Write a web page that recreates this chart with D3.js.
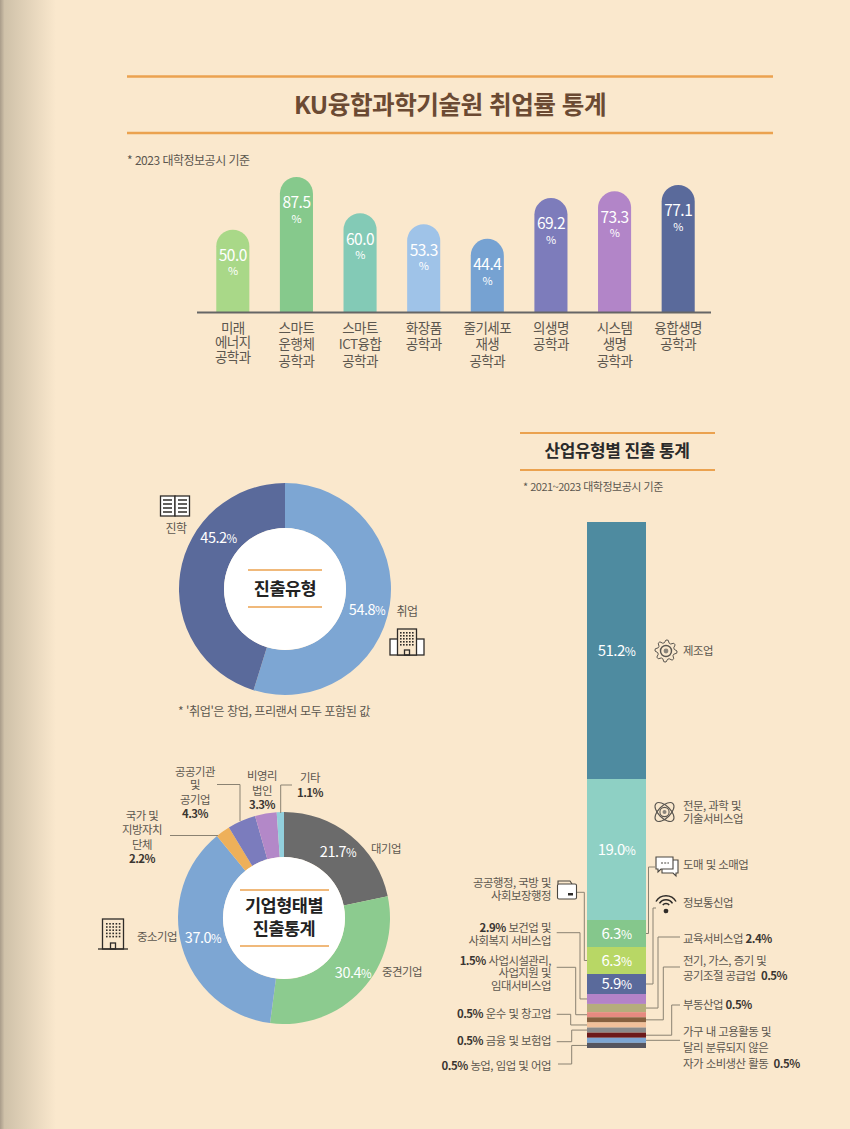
<!DOCTYPE html>
<html lang="ko">
<head>
<meta charset="utf-8">
<script src="https://cdn.jsdelivr.net/npm/d3@7"></script>
<style>
    html, body { margin: 0; padding: 0; background: #fae8cd; }
    svg { display: block; }
    text { font-family: "Noto Sans CJK KR", "Noto Sans", sans-serif; letter-spacing: -0.5px; }
</style>
</head>
<body>
<div id="vis"></div>
<script>
// department employment rates
const deptNames = [
    ['미래', '에너지', '공학과'],
    ['스마트', '운행체', '공학과'],
    ['스마트', 'ICT융합', '공학과'],
    ['화장품', '공학과'],
    ['줄기세포', '재생', '공학과'],
    ['의생명', '공학과'],
    ['시스템', '생명', '공학과'],
    ['융합생명', '공학과']
];
const deptRates = [50.0, 87.5, 60.0, 53.3, 44.4, 69.2, 73.3, 77.1];
const deptColors = ['#a9d888', '#86c98c', '#83cab6', '#9fc3e8', '#76a2d2', '#7d7cbb', '#b285c8', '#5a6a9b'];

// career type donut
const careerNames = ['취업', '진학'];
const careerValues = [54.8, 45.2];
const careerColors = ['#7da6d3', '#5a6a9b'];

// company type donut
const companyNames = ['대기업', '중견기업', '중소기업', '국가 및 지방자치 단체', '공공기관 및 공기업', '비영리 법인', '기타'];
const companyValues = [21.7, 30.4, 37.0, 2.2, 4.3, 3.3, 1.1];
const companyColors = ['#6b6b6b', '#8ccb8f', '#7da6d3', '#eeb05a', '#7b7cbd', '#b388c8', '#92cfdc'];

// industry stacked bar
const industryNames = ['제조업', '전문, 과학 및 기술서비스업', '도매 및 소매업', '공공행정, 국방 및 사회보장행정', '정보통신업',
    '보건업 및 사회복지 서비스업', '교육서비스업', '사업시설관리, 사업지원 및 임대서비스업', '전기, 가스, 증기 및 공기조절 공급업',
    '운수 및 창고업', '금융 및 보험업', '부동산업', '가구 내 고용활동', '농업, 임업 및 어업'];
const industryValues = [51.2, 19.0, 6.3, 6.3, 5.9, 2.9, 2.4, 1.5, 0.5, 0.5, 0.5, 0.5, 0.5, 0.5];
const industryColors = ['#4e8ba0', '#8ed0c4', '#85c78c', '#b8d765', '#5a6a9b', '#b383c8', '#b5ad7c',
    '#e68a80', '#86603f', '#f1c09a', '#8a8a8a', '#6d1a1a', '#7da6d3', '#55555f'];

const ORANGE = '#eba24f';
const LINE = '#8a8272';
const TEXT = '#5c574f';
const DARK = '#3a3632';

const svg = d3.select('#vis')
    .append('svg')
    .attr('width', 850)
    .attr('height', 1129);

// page background with the book gutter shadow on the left
const gutter = svg.append('defs').append('linearGradient').attr('id', 'gutter');
gutter.append('stop').attr('offset', '0').attr('stop-color', '#a99c8a');
gutter.append('stop').attr('offset', '0.08').attr('stop-color', '#cfc1a9');
gutter.append('stop').attr('offset', '1').attr('stop-color', '#fae8cd');
svg.append('rect').attr('width', 850).attr('height', 1129).attr('fill', '#fae8cd');
svg.append('rect').attr('width', 56).attr('height', 1129).attr('fill', 'url(#gutter)');

function rule(x1, x2, y, w) {
    svg.append('line')
        .attr('x1', x1).attr('x2', x2).attr('y1', y).attr('y2', y)
        .attr('stroke', ORANGE).attr('stroke-width', w);
}

// one text element, one tspan per line. A line is a string or a list of parts,
// parts ending in % come out bold and dark
function label(x, ys, lines, opts = {}) {
    const t = svg.append('text')
        .attr('text-anchor', opts.anchor || 'start')
        .attr('font-size', opts.size || 11.4)
        .attr('font-weight', opts.weight || 400)
        .attr('fill', opts.fill || TEXT);
    [].concat(ys).forEach((y, i) => {
        const parts = [].concat(Array.isArray(lines) ? lines[i] : lines);
        parts.forEach((p, k) => {
            const s = t.append('tspan').text(p);
            if (k === 0) s.attr('x', x).attr('y', y).attr('dy', '0.35em');
            if (/%$/.test(p)) s.attr('font-weight', 700).attr('fill', DARK);
        });
    });
    return t;
}

// white number with the smaller percent sign
function pct(x, y, value, size) {
    const t = svg.append('text')
        .attr('x', x).attr('y', y)
        .attr('dy', '0.35em')
        .attr('text-anchor', 'middle')
        .attr('fill', '#fff')
        .attr('font-size', size);
    t.append('tspan').text(value.toFixed(1));
    t.append('tspan').attr('font-size', size - 3).text('%');
}

// ---- title
rule(127, 773, 76.5, 2.5);
rule(127, 773, 133, 2.5);
label(450, 105, 'KU융합과학기술원 취업률 통계', { anchor: 'middle', size: 24.6, weight: 700, fill: '#6b4a33' });
label(127, 161, '* 2023 대학정보공시 기준', { size: 12 });

// ---- department bars
const barX = d3.scaleBand()
    .domain(d3.range(deptRates.length))
    .range([201, 710])
    .paddingInner(0.48)
    .paddingOuter(0.24);

// the original draws the tallest bar shorter than its share, hence the extra stop
const barY = d3.scaleLinear()
    .domain([0, 77.1, 87.5])
    .range([312, 185, 177]);

const bars = svg.append('g');
deptRates.forEach((v, i) => {
    const x = barX(i), w = barX.bandwidth(), top = barY(v), r = w / 2;
    bars.append('path')
        .attr('d', `M${x},312V${top + r}A${r},${r} 0 0 1 ${x + w},${top + r}V312Z`)
        .attr('fill', deptColors[i]);
    const cx = x + r;
    const t = label(cx, top + 26, v.toFixed(1), { anchor: 'middle', size: 15.5, fill: '#fff' });
    t.append('tspan').attr('x', cx).attr('y', top + 42).attr('dy', '0.35em').attr('font-size', 11).text('%');
    const step = deptNames[i][0] === '미래' ? 14.5 : 16.5;
    label(cx, deptNames[i].map((d, j) => 328 + j * step), deptNames[i], { anchor: 'middle', size: 13.5 });
});

const barAxis = svg.append('g')
    .attr('transform', 'translate(0,312.5)')
    .call(d3.axisBottom(barX).tickSize(0).tickFormat(''));
barAxis.select('.domain').attr('d', 'M197,0H711').attr('stroke', '#666').attr('stroke-width', 2);

// ---- donuts
function donut(cx, cy, values, colors) {
    const pie = d3.pie().sort(null)(values);
    const arc = d3.arc().innerRadius(61).outerRadius(106);
    const g = svg.append('g').attr('transform', `translate(${cx},${cy})`);
    g.selectAll('path')
        .data(pie)
        .join('path')
        .attr('d', arc)
        .attr('fill', (d, i) => colors[i]);
    g.append('circle').attr('r', 61).attr('fill', '#fff');
}

donut(285, 589, careerValues, careerColors);
rule(248, 322, 570, 1.5);
rule(248, 322, 607, 1.5);
label(285, 589, '진출유형', { anchor: 'middle', size: 17.5, weight: 700, fill: '#222' });
pct(367, 610, careerValues[0], 14.5);
pct(218.5, 538, careerValues[1], 14.5);
label(407, 612, careerNames[0], { anchor: 'middle', size: 12 });
label(176, 529, careerNames[1], { anchor: 'middle', size: 12 });
label(178, 712, "* '취업'은 창업, 프리랜서 모두 포함된 값", { size: 12.2 });

donut(284, 918, companyValues, companyColors);
rule(240, 329, 890, 1.5);
rule(240, 329, 946, 1.5);
label(284, [906, 929], ['기업형태별', '진출통계'], { anchor: 'middle', size: 17.5, weight: 700, fill: '#222' });
pct(338, 852, companyValues[0], 14.5);
pct(353, 973, companyValues[1], 14.5);
pct(203, 938, companyValues[2], 14.5);
label(386, 849, companyNames[0], { anchor: 'middle' });
label(402, 972, companyNames[1], { anchor: 'middle' });
label(157, 937, companyNames[2], { anchor: 'middle' });

const share = v => v.toFixed(1) + '%';
label(142, [816, 830, 845, 859], ['국가 및', '지방자치', '단체', share(companyValues[3])], { anchor: 'middle' });
label(195, [772, 785, 800, 814], ['공공기관', '및', '공기업', share(companyValues[4])], { anchor: 'middle' });
label(262, [776, 791, 805], ['비영리', '법인', share(companyValues[5])], { anchor: 'middle' });
label(310, [778, 793], ['기타', share(companyValues[6])], { anchor: 'middle' });

function leader(d) {
    svg.append('path').attr('d', d).attr('fill', 'none').attr('stroke', LINE).attr('stroke-width', 1);
}
leader('M170,835.5H218');
leader('M217,784.5H240V821');
leader('M280.7,813V785H292');

// ---- industry stacked bar
rule(520, 715, 433, 2);
rule(520, 715, 470, 2);
label(617, 451, '산업유형별 진출 통계', { anchor: 'middle', size: 17, weight: 700, fill: '#2a2a2a' });
label(523, 487, '* 2021~2023 대학정보공시 기준', { size: 11 });

const cum = d3.cumsum(industryValues);
const starts = [0, ...cum];
// the small shares are drawn wider than their share in the original, so the scale has stops
const stackY = d3.scaleLinear()
    .domain([0, 51.2, 70.2, 82.8, 88.7, 95.5, d3.sum(industryValues)])
    .range([522, 779, 920, 974, 994, 1017.3, 1048]);
const stackX = 587, stackW = 59;
const midY = i => (stackY(starts[i]) + stackY(cum[i])) / 2;

svg.append('g').selectAll('rect')
    .data(industryValues)
    .join('rect')
    .attr('x', stackX)
    .attr('width', stackW)
    .attr('y', (d, i) => stackY(starts[i]))
    .attr('height', (d, i) => stackY(cum[i]) - stackY(starts[i]))
    .attr('fill', (d, i) => industryColors[i]);

industryValues.slice(0, 5).forEach((v, i) => pct(stackX + stackW / 2, midY(i), v, 15));

const R = stackX + stackW, L = stackX;
// leaders: [segment, elbow x, label y, end x]
[[2, 648.5, 867, 655], [4, 653, 908, 656], [6, 658, 937, 680], [8, 663.3, 967, 680], [11, 671.7, 1005, 680]]
    .forEach(([s, ex, ly, end]) => leader(`M${R},${midY(s)}H${ex}V${ly}H${end}`));
leader(`M${R},${midY(12)}H680`);
[[3, 584.3, 892.3, 576.7], [5, 580, 932.7, 556.7], [7, 575.7, 967.3, 556.7], [9, 570.7, 1014.3, 556.7], [10, 571.7, 1041.7, 556.7], [13, 571.7, 1064, 558]]
    .forEach(([s, ex, ly, end]) => leader(`M${L},${midY(s)}H${ex}V${ly}H${end}`));

const indShare = i => share(industryValues[i]);
label(683, 651, industryNames[0]);
label(683, [806, 819], ['전문, 과학 및', '기술서비스업']);
label(683, 865, industryNames[2]);
label(683, 903, industryNames[4]);
label(683, 939, [['교육서비스업 ', indShare(6)]]);
label(683, [961, 976.5], ['전기, 가스, 증기 및', ['공기조절 공급업\u00a0\u00a0', indShare(8)]]);
label(683, 1005, [['부동산업 ', indShare(11)]]);
label(683, [1032, 1048, 1064], ['가구 내 고용활동 및', '달리 분류되지 않은', ['자가 소비생산 활동\u00a0\u00a0', indShare(12)]]);

const endLabel = { anchor: 'end' };
label(551, [883, 896], ['공공행정, 국방 및', '사회보장행정'], endLabel);
label(551, [928, 941], [[indShare(5), ' 보건업 및'], '사회복지 서비스업'], endLabel);
label(551, [961, 973, 986], [[indShare(7), ' 사업시설관리,'], '사업지원 및', '임대서비스업'], endLabel);
label(551, 1014, [[indShare(9), ' 운수 및 창고업']], endLabel);
label(551, 1041, [[indShare(10), ' 금융 및 보험업']], endLabel);
label(551, 1066, [[indShare(13), ' 농업, 임업 및 어업']], endLabel);

// ---- icons
function icon(x, y, stroke = '#2f2c29', width = 1.3) {
    return svg.append('g')
        .attr('transform', `translate(${x},${y})`)
        .attr('fill', 'none')
        .attr('stroke', stroke)
        .attr('stroke-width', width);
}

function windows(g, x, y, cols, rows, step) {
    d3.range(cols).forEach(c => d3.range(rows).forEach(r => {
        g.append('rect').attr('x', x + c * step).attr('y', y + r * step)
            .attr('width', 1.6).attr('height', 1.6).attr('fill', '#2f2c29').attr('stroke', 'none');
    }));
}

// open book
const book = icon(175, 506);
book.append('rect').attr('x', -14.5).attr('y', -10).attr('width', 14.5).attr('height', 20).attr('fill', '#fff');
book.append('rect').attr('x', 0).attr('y', -10).attr('width', 14.5).attr('height', 20).attr('fill', '#fff');
d3.range(4).forEach(i => {
    book.append('path').attr('d', `M-12,${-6 + i * 4}H-3M3,${-6 + i * 4}H12`);
});

// office building, career donut
const office = icon(407, 645);
office.append('rect').attr('x', -17).attr('y', -6).attr('width', 34).attr('height', 16).attr('fill', '#fff');
office.append('rect').attr('x', -9.5).attr('y', -16).attr('width', 19).attr('height', 26).attr('fill', '#fae8cd');
windows(office, -7, -13, 5, 5, 3);
office.append('rect').attr('x', -2.5).attr('y', 5).attr('width', 5).attr('height', 5);

// tower, company donut
const tower = icon(113, 934);
tower.append('rect').attr('x', -10.5).attr('y', -15).attr('width', 21).attr('height', 30);
tower.append('path').attr('d', 'M-15,15H15');
windows(tower, -7, -11, 5, 5, 3.2);
tower.append('rect').attr('x', -2.5).attr('y', 9).attr('width', 5).attr('height', 6);

// gear, outline with teeth
const gear = icon(666, 651, '#5a5650', 1);
const teeth = d3.range(32).map(i => [i * Math.PI / 16, (i % 4 < 2) ? 11 : 8.4]);
gear.append('path').attr('d', d3.lineRadial().curve(d3.curveLinearClosed)(teeth));
gear.append('circle').attr('r', 5.5).attr('stroke-width', 1.4);
gear.append('circle').attr('r', 2.4).attr('fill', '#8a857c').attr('stroke', 'none');

// atom
const atom = icon(664.5, 812, '#5a5650', 1.1);
[-45, 45].forEach(a => {
    atom.append('ellipse').attr('rx', 12).attr('ry', 6).attr('transform', `rotate(${a})`);
});
atom.append('circle').attr('r', 4.6);
atom.append('circle').attr('r', 2).attr('fill', '#8a857c').attr('stroke', 'none');

// chat bubbles
const chat = icon(665, 865, '#4a4640', 1.1);
chat.append('path').attr('d', 'M7,-5H13V8H11V11L8,8H-3V3').attr('fill', '#fff');
chat.append('path').attr('d', 'M-9,-8H8V4H-4L-7,7V4H-9Z').attr('fill', '#fff');
chat.append('path').attr('d', 'M-4,-2H4').attr('stroke-dasharray', '2 1.2');

// wifi
const wifi = icon(666, 905);
[10, 6.5, 3.2].forEach(r => {
    wifi.append('path').attr('d', `M${-r},${2 - r * 0.55}A${r * 1.15},${r * 1.15} 0 0 1 ${r},${2 - r * 0.55}`).attr('stroke-width', 1.5);
});
wifi.append('circle').attr('cy', 6).attr('r', 1.7).attr('fill', '#2f2c29');

// folder
const folder = icon(567, 890, '#4a4640', 1.1);
folder.append('path').attr('d', 'M-9,-6V-9H3L5,-6').attr('fill', '#fae8cd');
folder.append('rect').attr('x', -9.5).attr('y', -6).attr('width', 19).attr('height', 15).attr('rx', 1.5).attr('fill', '#fff');
folder.append('rect').attr('x', 1).attr('y', 3).attr('width', 5).attr('height', 2.5).attr('fill', '#2f2c29').attr('stroke', 'none');
</script>
</body>
</html>
